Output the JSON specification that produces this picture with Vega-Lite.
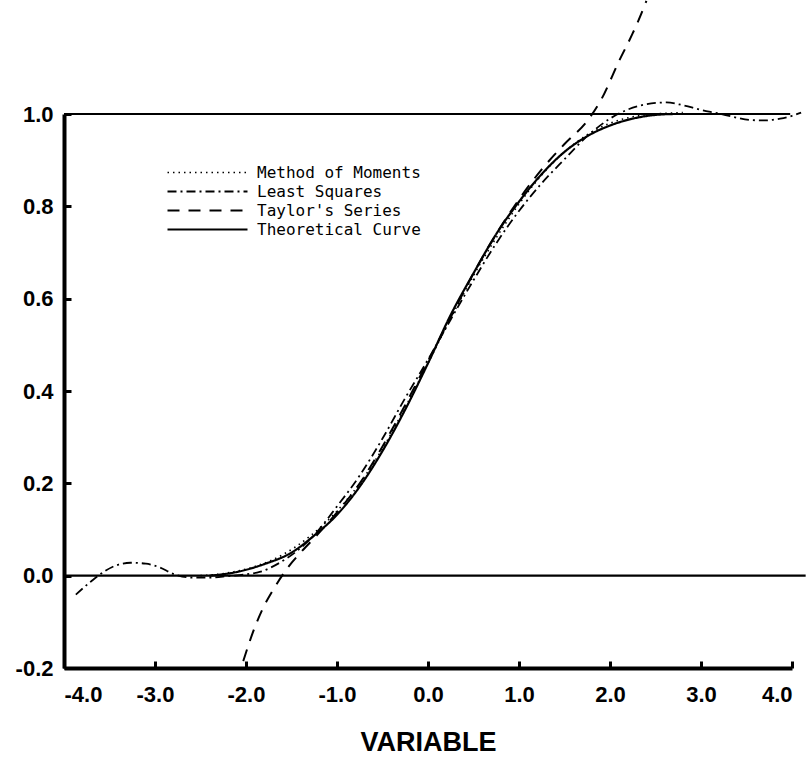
{
  "$schema": "https://vega.github.io/schema/vega-lite/v6.json",
  "width": 728,
  "height": 554,
  "autosize": {"type": "none"},
  "padding": {"left": 64, "top": 114, "right": 20, "bottom": 95},
  "background": "white",
  "config": {"view": {"stroke": null}, "font": "Liberation Sans"},
  "datasets": {
    "refs": [
      {"x1": -4.0, "x2": 4.15, "y": 0.0},
      {"x1": -4.0, "x2": 3.98, "y": 1.0}
    ],
    "curves": [
      {"series": "Theoretical Curve", "x": -2.4, "y": 0.0},
      {"series": "Theoretical Curve", "x": -2.1, "y": 0.008},
      {"series": "Theoretical Curve", "x": -1.8, "y": 0.025},
      {"series": "Theoretical Curve", "x": -1.5, "y": 0.05},
      {"series": "Theoretical Curve", "x": -1.25, "y": 0.087},
      {"series": "Theoretical Curve", "x": -1.0, "y": 0.132},
      {"series": "Theoretical Curve", "x": -0.75, "y": 0.193},
      {"series": "Theoretical Curve", "x": -0.5, "y": 0.27},
      {"series": "Theoretical Curve", "x": -0.25, "y": 0.36},
      {"series": "Theoretical Curve", "x": 0.0, "y": 0.46},
      {"series": "Theoretical Curve", "x": 0.25, "y": 0.565},
      {"series": "Theoretical Curve", "x": 0.5, "y": 0.655},
      {"series": "Theoretical Curve", "x": 0.75, "y": 0.74},
      {"series": "Theoretical Curve", "x": 1.0, "y": 0.81},
      {"series": "Theoretical Curve", "x": 1.25, "y": 0.87},
      {"series": "Theoretical Curve", "x": 1.5, "y": 0.918},
      {"series": "Theoretical Curve", "x": 1.75, "y": 0.952},
      {"series": "Theoretical Curve", "x": 2.0, "y": 0.975},
      {"series": "Theoretical Curve", "x": 2.25, "y": 0.99},
      {"series": "Theoretical Curve", "x": 2.5, "y": 0.998},
      {"series": "Theoretical Curve", "x": 2.7, "y": 1.0},

      {"series": "Method of Moments", "x": -2.5, "y": 0.0},
      {"series": "Method of Moments", "x": -2.2, "y": 0.006},
      {"series": "Method of Moments", "x": -1.9, "y": 0.02},
      {"series": "Method of Moments", "x": -1.6, "y": 0.045},
      {"series": "Method of Moments", "x": -1.3, "y": 0.085},
      {"series": "Method of Moments", "x": -1.0, "y": 0.14},
      {"series": "Method of Moments", "x": -0.75, "y": 0.2},
      {"series": "Method of Moments", "x": -0.5, "y": 0.275},
      {"series": "Method of Moments", "x": -0.25, "y": 0.365},
      {"series": "Method of Moments", "x": 0.0, "y": 0.46},
      {"series": "Method of Moments", "x": 0.25, "y": 0.558},
      {"series": "Method of Moments", "x": 0.5, "y": 0.65},
      {"series": "Method of Moments", "x": 0.75, "y": 0.732},
      {"series": "Method of Moments", "x": 1.0, "y": 0.805},
      {"series": "Method of Moments", "x": 1.25, "y": 0.868},
      {"series": "Method of Moments", "x": 1.5, "y": 0.918},
      {"series": "Method of Moments", "x": 1.75, "y": 0.955},
      {"series": "Method of Moments", "x": 2.0, "y": 0.98},
      {"series": "Method of Moments", "x": 2.25, "y": 0.994},
      {"series": "Method of Moments", "x": 2.5, "y": 1.0},
      {"series": "Method of Moments", "x": 2.8, "y": 1.003},

      {"series": "Least Squares", "x": -3.87, "y": -0.041},
      {"series": "Least Squares", "x": -3.7, "y": -0.012},
      {"series": "Least Squares", "x": -3.55, "y": 0.01},
      {"series": "Least Squares", "x": -3.4, "y": 0.024},
      {"series": "Least Squares", "x": -3.27, "y": 0.028},
      {"series": "Least Squares", "x": -3.1, "y": 0.026},
      {"series": "Least Squares", "x": -2.95, "y": 0.018},
      {"series": "Least Squares", "x": -2.8, "y": 0.004},
      {"series": "Least Squares", "x": -2.6, "y": -0.004},
      {"series": "Least Squares", "x": -2.4, "y": -0.004},
      {"series": "Least Squares", "x": -2.2, "y": -0.001},
      {"series": "Least Squares", "x": -2.0, "y": 0.003},
      {"series": "Least Squares", "x": -1.85, "y": 0.008},
      {"series": "Least Squares", "x": -1.63, "y": 0.028},
      {"series": "Least Squares", "x": -1.45, "y": 0.052},
      {"series": "Least Squares", "x": -1.26, "y": 0.086},
      {"series": "Least Squares", "x": -1.0, "y": 0.15},
      {"series": "Least Squares", "x": -0.75, "y": 0.217},
      {"series": "Least Squares", "x": -0.5, "y": 0.297},
      {"series": "Least Squares", "x": -0.25, "y": 0.385},
      {"series": "Least Squares", "x": 0.0, "y": 0.468},
      {"series": "Least Squares", "x": 0.25, "y": 0.555},
      {"series": "Least Squares", "x": 0.5, "y": 0.64},
      {"series": "Least Squares", "x": 0.75, "y": 0.72},
      {"series": "Least Squares", "x": 1.0, "y": 0.79},
      {"series": "Least Squares", "x": 1.25, "y": 0.85},
      {"series": "Least Squares", "x": 1.5, "y": 0.902},
      {"series": "Least Squares", "x": 1.75, "y": 0.952},
      {"series": "Least Squares", "x": 2.0, "y": 0.99},
      {"series": "Least Squares", "x": 2.2, "y": 1.01},
      {"series": "Least Squares", "x": 2.4, "y": 1.021},
      {"series": "Least Squares", "x": 2.62, "y": 1.025},
      {"series": "Least Squares", "x": 2.8, "y": 1.019},
      {"series": "Least Squares", "x": 3.0, "y": 1.009},
      {"series": "Least Squares", "x": 3.2, "y": 1.001},
      {"series": "Least Squares", "x": 3.35, "y": 0.994},
      {"series": "Least Squares", "x": 3.54, "y": 0.987},
      {"series": "Least Squares", "x": 3.7, "y": 0.986},
      {"series": "Least Squares", "x": 3.87, "y": 0.99},
      {"series": "Least Squares", "x": 4.0, "y": 0.996},
      {"series": "Least Squares", "x": 4.1, "y": 1.003},

      {"series": "Taylor's Series", "x": -2.03, "y": -0.185},
      {"series": "Taylor's Series", "x": -1.9, "y": -0.11},
      {"series": "Taylor's Series", "x": -1.8, "y": -0.065},
      {"series": "Taylor's Series", "x": -1.7, "y": -0.03},
      {"series": "Taylor's Series", "x": -1.55, "y": 0.015},
      {"series": "Taylor's Series", "x": -1.4, "y": 0.05},
      {"series": "Taylor's Series", "x": -1.2, "y": 0.092},
      {"series": "Taylor's Series", "x": -1.0, "y": 0.137},
      {"series": "Taylor's Series", "x": -0.75, "y": 0.2},
      {"series": "Taylor's Series", "x": -0.5, "y": 0.28},
      {"series": "Taylor's Series", "x": -0.25, "y": 0.37},
      {"series": "Taylor's Series", "x": 0.0, "y": 0.465},
      {"series": "Taylor's Series", "x": 0.25, "y": 0.56},
      {"series": "Taylor's Series", "x": 0.5, "y": 0.655},
      {"series": "Taylor's Series", "x": 0.75, "y": 0.74},
      {"series": "Taylor's Series", "x": 1.0, "y": 0.815},
      {"series": "Taylor's Series", "x": 1.25, "y": 0.88},
      {"series": "Taylor's Series", "x": 1.5, "y": 0.935},
      {"series": "Taylor's Series", "x": 1.75, "y": 0.985},
      {"series": "Taylor's Series", "x": 1.9, "y": 1.03},
      {"series": "Taylor's Series", "x": 2.1, "y": 1.115},
      {"series": "Taylor's Series", "x": 2.25, "y": 1.175},
      {"series": "Taylor's Series", "x": 2.35, "y": 1.22},
      {"series": "Taylor's Series", "x": 2.4, "y": 1.245}
    ]
  },
  "layer": [
    {
      "data": {"name": "refs"},
      "mark": {"type": "rule", "color": "black", "strokeWidth": 2.2, "clip": false},
      "encoding": {
        "x": {"field": "x1", "type": "quantitative", "scale": {"domain": [-4, 4], "nice": false}},
        "x2": {"field": "x2"},
        "y": {"field": "y", "type": "quantitative", "scale": {"domain": [-0.2, 1.0], "nice": false, "zero": false}}
      }
    },
    {
      "data": {"name": "curves"},
      "mark": {"type": "line", "clip": false, "interpolate": "monotone", "color": "black"},
      "encoding": {
        "x": {
          "field": "x", "type": "quantitative",
          "scale": {"domain": [-4, 4], "nice": false},
          "axis": {
            "title": "VARIABLE",
            "values": [-4, -3, -2, -1, 0, 1, 2, 3, 4],
            "labelExpr": "(datum.value < 0 ? '-' : '') + format(abs(datum.value), '.1f')",
            "labelFont": "Liberation Sans", "labelFontSize": 22, "labelFontWeight": "bold", "labelColor": "black",
            "labelPadding": 23,
            "tickSize": -7, "tickWidth": 3, "tickColor": "black",
            "domainColor": "black", "domainWidth": 4,
            "grid": false,
            "titleFont": "Liberation Sans", "titleFontSize": 27, "titleFontWeight": "bold", "titleColor": "black",
            "titlePadding": 24
          }
        },
        "y": {
          "field": "y", "type": "quantitative",
          "scale": {"domain": [-0.2, 1.0], "nice": false, "zero": false},
          "axis": {
            "title": null,
            "values": [-0.2, 0, 0.2, 0.4, 0.6, 0.8, 1.0],
            "labelExpr": "(datum.value < 0 ? '-' : '') + format(abs(datum.value), '.1f')",
            "labelFont": "Liberation Sans", "labelFontSize": 22, "labelFontWeight": "bold", "labelColor": "black",
            "labelPadding": 18,
            "tickSize": -7, "tickWidth": 3, "tickColor": "black",
            "domainColor": "black", "domainWidth": 4,
            "grid": false
          }
        },
        "strokeDash": {
          "field": "series", "type": "nominal",
          "scale": {
            "domain": ["Method of Moments", "Least Squares", "Taylor's Series", "Theoretical Curve"],
            "range": [[1.5, 4], [9, 4, 2, 4], [12, 9], [1, 0]]
          },
          "legend": {
            "title": null,
            "orient": "none",
            "legendX": 102,
            "legendY": 50,
            "padding": 0,
            "symbolType": "stroke",
            "symbolSize": 6400,
            "symbolStrokeWidth": 1.3,
            "symbolStrokeColor": "black",
            "labelFont": "DejaVu Sans Mono",
            "labelFontSize": 16,
            "labelColor": "black",
            "labelOffset": 8,
            "labelLimit": 400,
            "clipHeight": 17,
            "rowPadding": 2
          }
        },
        "strokeWidth": {
          "field": "series", "type": "nominal",
          "scale": {
            "domain": ["Method of Moments", "Least Squares", "Taylor's Series", "Theoretical Curve"],
            "range": [1.6, 2.2, 2.5, 3.4]
          },
          "legend": null
        }
      }
    }
  ]
}
